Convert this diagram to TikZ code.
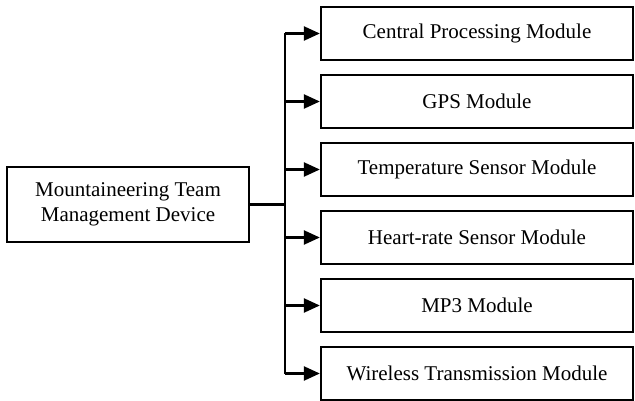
\documentclass[tikz,border=0pt]{standalone}
\usepackage{fontspec}
\setmainfont{Liberation Serif}
\usetikzlibrary{arrows.meta,positioning,calc}

\begin{document}
\begin{tikzpicture}[x=1pt,y=1pt]
        % Define the box and arrow styles
        \tikzstyle{modbox}=[draw, line width=2.3pt, minimum width=312pt, minimum height=53pt, inner sep=0pt, font=\fontsize{21}{25}\selectfont]
        \tikzstyle{devbox}=[draw, line width=2.3pt, minimum width=242pt, minimum height=75pt, align=center, font=\fontsize{21}{25}\selectfont]
        \tikzstyle{feed}=[line width=2.3pt, -{Triangle[length=16pt, width=14pt]}]

        \useasboundingbox (0,0) rectangle (635,400);

        % Main device
        \node (dev)[devbox] at (128,195.5) {Mountaineering Team\\Management Device};

        % Modules
        \node (cpu)[modbox] at (477,366.5) {Central Processing Module};
        \node (gps)[modbox] at (477,298.5) {GPS Module};
        \node (temp)[modbox] at (477,230.5) {Temperature Sensor Module};
        \node (heart)[modbox] at (477,162.5) {Heart-rate Sensor Module};
        \node (mp3)[modbox] at (477,94.5) {MP3 Module};
        \node (wifi)[modbox] at (477,26.5) {Wireless Transmission Module};

        % Trunk line
        \coordinate (top) at (285,366.5);
        \coordinate (bot) at (285,26.5);
        \coordinate (mid) at (285,195.5);
        \draw[line width=2.3pt] (top) -- (bot);
        \draw[line width=2.3pt] (dev.east) -- (mid);

        % Branches to the modules
        \draw[feed] (top) -- (cpu.west);
        \draw[feed] (gps.west -| top) -- (gps.west);
        \draw[feed] (temp.west -| top) -- (temp.west);
        \draw[feed] (heart.west -| top) -- (heart.west);
        \draw[feed] (mp3.west -| top) -- (mp3.west);
        \draw[feed] (bot) -- (wifi.west);
    \end{tikzpicture}
\end{document}
